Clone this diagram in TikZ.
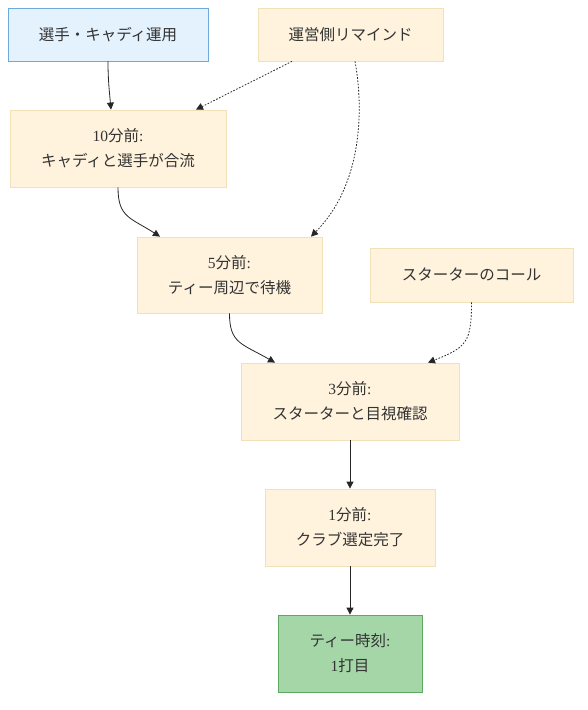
\documentclass[tikz,border=0pt]{standalone}
\usepackage{fontspec}
\setmainfont{Liberation Serif}
\newfontfamily\jpf{Noto Sans CJK JP}
\usetikzlibrary{arrows.meta,calc}
\newcommand{\J}[1]{{\jpf #1}}
\definecolor{cream}{HTML}{FFF3DD}
\definecolor{creamline}{HTML}{F0E1B8}
\definecolor{bluefill}{HTML}{E3F2FD}
\definecolor{blueline}{HTML}{6FA8DC}
\definecolor{greenfill}{HTML}{A5D6A7}
\definecolor{greenline}{HTML}{5FA862}
\definecolor{txt}{HTML}{333333}
\tikzset{
  box/.style={draw=creamline, fill=cream, line width=0.8pt, inner sep=0pt, align=center,
    text=txt, font=\fontsize{15.5}{25}\selectfont},
  bluebox/.style={box, draw=blueline, fill=bluefill},
  greenbox/.style={box, draw=greenline, fill=greenfill},
  solidarr/.style={draw=black!85, line width=0.8pt, -{Triangle[length=7pt,width=7pt]}},
  dotarr/.style={solidarr, dash pattern=on 1.6pt off 1.6pt},
}
\begin{document}
\begin{tikzpicture}[x=1pt,y=-1pt]
\useasboundingbox (0,0) rectangle (588,710);
\node[bluebox, minimum width=200, minimum height=53] (A) at (108,34.5) {\J{選手・キャディ運用}};
\node[box, minimum width=185, minimum height=53] (B) at (350.5,34.5) {\J{運営側リマインド}};
\node[box, minimum width=216, minimum height=77] (C) at (118,148.5) {10\J{分前}:\\\J{キャディと選手が合流}};
\node[box, minimum width=185, minimum height=76] (D) at (229.5,275) {5\J{分前}:\\\J{ティー周辺で待機}};
\node[box, minimum width=203, minimum height=54] (E) at (471.5,275) {\J{スターターのコール}};
\node[box, minimum width=218, minimum height=77] (F) at (350,401.5) {3\J{分前}:\\\J{スターターと目視確認}};
\node[box, minimum width=170, minimum height=77] (G) at (350,527.5) {1\J{分前}:\\\J{クラブ選定完了}};
\node[greenbox, minimum width=144, minimum height=77] (H) at (350,653.5) {\J{ティー時刻}:\\1\J{打目}};

\draw[solidarr] (A.south) to[out=-90,in=95] ($(C.north)+(-7,0)$);
\draw[dotarr] ($(B.south)+(-58.5,0)$) -- ($(C.north)+(78,0)$);
\draw[dotarr] ($(B.south)+(4.5,0)$) .. controls ($(B.south)+(12,40)$) and ($(B.south)+(15,120)$) .. ($(D.north)+(81.5,0)$);
\draw[solidarr] (C.south) .. controls ($(C.south)+(0,30)$) and ($(C.south)+(12,30)$) .. ($(D.north)+(-69.5,0)$);
\draw[solidarr] (D.south) .. controls ($(D.south)+(0,30)$) and ($(D.south)+(12,30)$) .. ($(F.north)+(-75,0)$);
\draw[dotarr] (E.south) .. controls ($(E.south)+(0,40)$) and ($(E.south)+(-5,45)$) .. ($(F.north)+(78,0)$);
\draw[solidarr] (F.south) -- (G.north);
\draw[solidarr] (G.south) -- (H.north);
\end{tikzpicture}
\end{document}
